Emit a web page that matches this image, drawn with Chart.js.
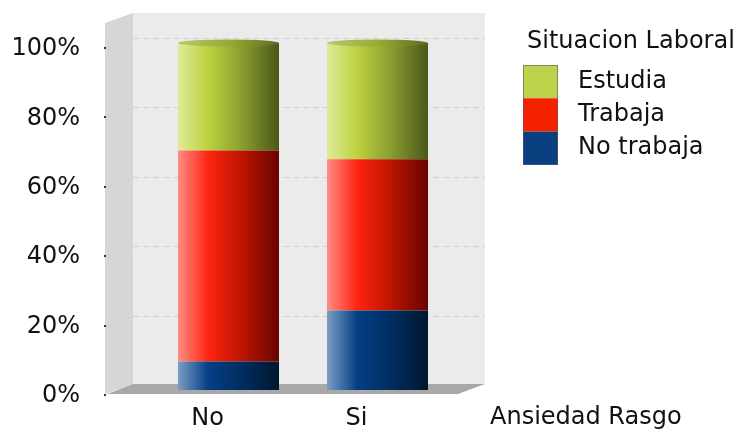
<!DOCTYPE html>
<html>
<head>
<meta charset="utf-8">
<script src="https://cdn.jsdelivr.net/npm/chart.js@4"></script>
<style>
  html, body { margin: 0; padding: 0; background: #fff; }
  #wrap { width: 745px; height: 430px; }
</style>
</head>
<body>
<div id="wrap"><canvas id="chart" width="745" height="430"></canvas></div>
<script>
// data
const categories = ["No", "Si"];
const noTrabaja = [8.2, 22.9];
const trabaja = [60.8, 43.6];
const estudia = [31.0, 33.5];
const yTicks = [0, 20, 40, 60, 80, 100];
const legendTitle = "Situacion Laboral";
const xTitle = "Ansiedad Rasgo";

const FONT = "DejaVu Sans";
const barPct = 0.678;

// left -> right shading of each cylinder
const shades = {
  "No trabaja": ["#7b9dc4", "#053f84", "#002c5e", "#00172e"],
  "Trabaja": ["#ff8c84", "#ff2410", "#b81400", "#6a0400"],
  "Estudia": ["#dfea98", "#bdd23e", "#879a30", "#4a5818"],
};
const flat = { "No trabaja": "#0a3f80", "Trabaja": "#f52200", "Estudia": "#bdd24a" };

function cylinderFill(c) {
  const label = c.dataset.label;
  if (c.type !== "data") return flat[label];
  const xs = c.chart.scales.x;
  if (!xs || !xs.width) return flat[label];
  const cx = xs.getPixelForValue(c.dataIndex);
  const half = (xs.width / categories.length) * barPct / 2;
  if (!isFinite(cx) || !isFinite(half)) return flat[label];
  const g = c.chart.ctx.createLinearGradient(cx - half, 0, cx + half, 0);
  const s = shades[label];
  g.addColorStop(0, s[0]);
  g.addColorStop(0.3, s[1]);
  g.addColorStop(0.65, s[2]);
  g.addColorStop(1, s[3]);
  return g;
}

// 3d box: side wall, back wall, floor, dashed lines
const boxPlugin = {
  id: "box3d",
  beforeDraw(chart) {
    const { ctx, chartArea: a } = chart;
    const ys = chart.scales.y;
    const bx0 = a.left - 21, bx1 = a.right + 33;
    const fx0 = a.left - 49;
    const top = a.top - 30, floorY = a.bottom - 6;
    ctx.save();
    ctx.fillStyle = "#ebebeb";
    ctx.fillRect(bx0, top, bx1 - bx0, floorY - top);
    ctx.fillStyle = "#d6d6d6";
    ctx.beginPath();
    ctx.moveTo(fx0, top + 10);
    ctx.lineTo(bx0, top);
    ctx.lineTo(bx0, floorY);
    ctx.lineTo(fx0, floorY + 10);
    ctx.closePath();
    ctx.fill();
    ctx.fillStyle = "#a8a8a8";
    ctx.beginPath();
    ctx.moveTo(bx0, floorY);
    ctx.lineTo(bx1, floorY);
    ctx.lineTo(a.right + 6, floorY + 10);
    ctx.lineTo(fx0 + 2, floorY + 10);
    ctx.closePath();
    ctx.fill();
    ctx.strokeStyle = "#cfcfcf";
    ctx.lineWidth = 1;
    ctx.setLineDash([6, 4]);
    yTicks.forEach(v => {
      if (v === 0) return;
      const py = Math.round(ys.getPixelForValue(v)) + 0.5;
      ctx.beginPath();
      ctx.moveTo(fx0, py + 5);
      ctx.lineTo(bx0, py - 5);
      ctx.lineTo(bx1, py - 5);
      ctx.stroke();
    });
    ctx.setLineDash([]);
    ctx.fillStyle = "#333";
    yTicks.forEach(v => {
      const py = Math.round(ys.getPixelForValue(v));
      ctx.fillRect(fx0 - 1, py + 4, 2, 2);
    });
    ctx.restore();
  },
  afterDatasetsDraw(chart) {
    const { ctx } = chart;
    const topMeta = chart.getDatasetMeta(chart.data.datasets.length - 1);
    ctx.save();
    topMeta.data.forEach(el => {
      const g = ctx.createLinearGradient(el.x - el.width / 2, 0, el.x + el.width / 2, 0);
      g.addColorStop(0, "#b8c86a");
      g.addColorStop(0.5, "#98ac34");
      g.addColorStop(1, "#5e6e20");
      ctx.fillStyle = g;
      ctx.beginPath();
      ctx.ellipse(el.x, el.y, el.width / 2, 3.5, 0, 0, Math.PI * 2);
      ctx.fill();
    });
    ctx.restore();
  },
  afterDraw(chart) {
    const { ctx, chartArea: a } = chart;
    ctx.save();
    ctx.font = "24px '" + FONT + "'";
    ctx.fillStyle = "#111";
    ctx.textBaseline = "middle";
    ctx.textAlign = "left";
    ctx.fillText(xTitle, a.right + 38, a.bottom + 28);
    // legend
    const lx = a.right + 71;
    ctx.fillText(legendTitle, lx + 4, a.top - 1);
    const items = chart.data.datasets.slice().reverse();
    items.forEach((ds, i) => {
      const y0 = a.top + 22 + i * 33.3;
      ctx.fillStyle = flat[ds.label];
      ctx.fillRect(lx, y0, 35, 33.3);
      ctx.fillStyle = "#111";
      ctx.fillText(ds.label, lx + 55, y0 + 16.5);
    });
    ctx.strokeStyle = "rgba(90,90,90,0.6)";
    ctx.strokeRect(lx + 0.5, a.top + 22.5, 34, 33.3 * items.length - 1);
    ctx.restore();
  }
};

new Chart(document.getElementById("chart"), {
  type: "bar",
  data: {
    labels: categories,
    datasets: [
      { label: "No trabaja", data: noTrabaja, backgroundColor: cylinderFill },
      { label: "Trabaja", data: trabaja, backgroundColor: cylinderFill },
      { label: "Estudia", data: estudia, backgroundColor: cylinderFill },
    ],
  },
  options: {
    responsive: false,
    animation: false,
    layout: { padding: { left: 0, right: 293, top: 43, bottom: 0 } },
    datasets: { bar: { barPercentage: barPct, categoryPercentage: 1, borderWidth: 0 } },
    plugins: { legend: { display: false }, tooltip: { enabled: false } },
    scales: {
      x: {
        stacked: true,
        grid: { display: false, drawTicks: true, tickLength: 14 },
        border: { display: false },
        ticks: { font: { family: FONT, size: 24 }, color: "#111", padding: 0, labelOffset: -21 },
        afterFit(s) { s.height = 40; },
      },
      y: {
        stacked: true,
        min: 0,
        max: 100,
        grid: { display: false, drawTicks: true, tickLength: 74 },
        border: { display: false },
        ticks: {
          stepSize: 20,
          font: { family: FONT, size: 24 },
          color: "#111",
          padding: 0,
          labelOffset: 6,
          callback: v => v + "%",
        },
        afterFit(s) { s.width = 154; },
      },
    },
  },
  plugins: [boxPlugin],
});
</script>
</body>
</html>
